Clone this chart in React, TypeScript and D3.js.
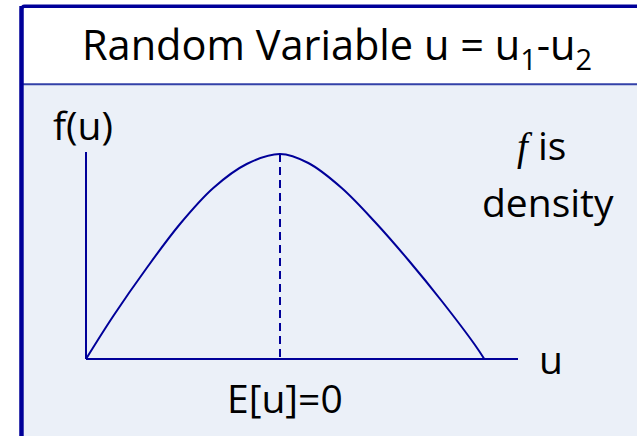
import React from "react";
import * as d3 from "d3";

// Data
const uValues = [-1.94, -1.667, -1.333, -1.0, -0.667, -0.333, 0, 0.283, 0.617, 0.95, 1.283, 1.617, 1.95, 2.043];
const densityValues = [0, 0.43, 0.91, 1.35, 1.71, 1.95, 2.05, 1.96, 1.71, 1.37, 0.99, 0.58, 0.14, 0];
const meanValue = [0];
const xAxisExtent = [-1.94, 2.38];
const yAxisExtent = [0, 2.07];
const labels = ["Random Variable u = u", "1", "-u", "2", "f(u)", "u", "E[u]=0", "f", " is", "density"];

const W = 637;
const H = 436;
const NAVY = "#000099";
const FONT = "'Open Sans', 'Noto Sans', sans-serif";

export default function App() {
  const x = d3.scaleLinear().domain(xAxisExtent).range([86, 518]);
  const y = d3.scaleLinear().domain(yAxisExtent).range([359, 152]);
  const pts: [number, number][] = uValues.map((u, i) => [u, densityValues[i]]);
  const line = d3
    .line<[number, number]>()
    .x((d) => x(d[0]))
    .y((d) => y(d[1]))
    .curve(d3.curveCatmullRom.alpha(0.5));
  const peak = densityValues[uValues.indexOf(meanValue[0])];

  return (
    <svg
      width={W}
      height={H}
      style={{ position: "absolute", left: 0, top: 0, display: "block" }}
      fontFamily={FONT}
    >
      <rect x={0} y={0} width={W} height={H} fill="#ffffff" />
      {/* frame */}
      <rect x={21.5} y={6.3} width={700} height={600} rx={3} fill="#ffffff" stroke={NAVY} strokeWidth={3.4} />
      <rect x={23.2} y={85} width={700} height={600} fill="#EBF0F8" />
      <line x1={23} x2={W} y1={84.3} y2={84.3} stroke="#3341A8" strokeWidth={2} />
      <line x1={21.5} x2={21.5} y1={6} y2={H} stroke={NAVY} strokeWidth={4.4} />

      {/* title */}
      <text x={82} y={60} fontSize={41.5} fill="#000">
        {labels[0]}
        <tspan dy={10} fontSize={29}>{labels[1]}</tspan>
        <tspan dy={-10}>{labels[2]}</tspan>
        <tspan dy={10} fontSize={29}>{labels[3]}</tspan>
      </text>

      {/* axes */}
      <line x1={x(xAxisExtent[0])} x2={x(xAxisExtent[0])} y1={y(yAxisExtent[1])} y2={y(0)} stroke={NAVY} strokeWidth={2} />
      <line x1={x(xAxisExtent[0])} x2={x(xAxisExtent[1])} y1={y(0)} y2={y(0)} stroke={NAVY} strokeWidth={2} />

      {/* density curve */}
      <path d={line(pts) || ""} fill="none" stroke={NAVY} strokeWidth={2} />

      {/* mean dashed line */}
      <line
        x1={x(meanValue[0])}
        x2={x(meanValue[0])}
        y1={y(peak)}
        y2={y(0)}
        stroke={NAVY}
        strokeWidth={2}
        strokeDasharray="8 5"
      />

      {/* labels */}
      <text x={53} y={140} fontSize={39} fill="#000">{labels[4]}</text>
      <text x={539} y={374} fontSize={39} fill="#000">{labels[5]}</text>
      <text x={227} y={413} fontSize={39} fill="#000">{labels[6]}</text>
      <text x={517} y={160} fontSize={39} fill="#000">
        <tspan fontFamily="'Liberation Serif', serif" fontStyle="italic">{labels[7]}</tspan>
        <tspan>{labels[8]}</tspan>
      </text>
      <text x={482} y={217} fontSize={39} fill="#000">{labels[9]}</text>
    </svg>
  );
}
